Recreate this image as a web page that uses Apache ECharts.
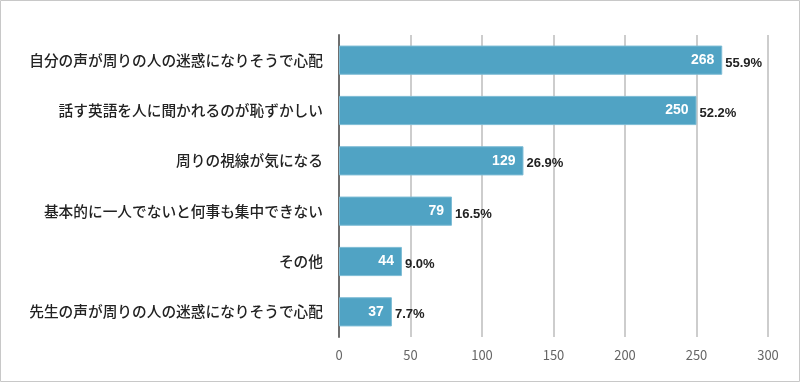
<!DOCTYPE html>
<html><head><meta charset="utf-8">
<script src="https://cdn.jsdelivr.net/npm/echarts@6/dist/echarts.min.js"></script>
<style>html,body{margin:0;padding:0;background:#fff}#c{width:800px;height:382px}</style>
</head><body><div id="c"></div>
<script>
const categories = ['自分の声が周りの人の迷惑になりそうで心配','話す英語を人に聞かれるのが恥ずかしい','周りの視線が気になる','基本的に一人でないと何事も集中できない','その他','先生の声が周りの人の迷惑になりそうで心配'];
const counts = [268, 250, 129, 79, 44, 37];
const percents = ['55.9%', '52.2%', '26.9%', '16.5%', '9.0%', '7.7%'];
const xTicks = [0, 50, 100, 150, 200, 250, 300];

const chart = echarts.init(document.getElementById('c'));
chart.setOption({
  animation: false,
  graphic: [{type:'rect', shape:{x:0.5,y:0.5,width:799,height:381}, style:{fill:'none', stroke:'#c8c8c8', lineWidth:1}, silent:true}],
  grid: {left: 339, right: 32, top: 35, bottom: 45},
  xAxis: {
    type: 'value', min: xTicks[0], max: xTicks[xTicks.length-1], interval: 50,
    axisLine: {show: false}, axisTick: {show: false},
    splitLine: {lineStyle: {color: '#bdbdbd', width: 1.5}},
    axisLabel: {color: '#666', fontSize: 13, margin: 12, fontFamily: 'Noto Sans CJK JP'}
  },
  yAxis: {
    type: 'category', data: categories, inverse: true,
    axisLine: {lineStyle: {color: '#6e6e6e', width: 2}},
    axisTick: {show: false},
    axisLabel: {color: '#222', fontSize: 14.7, fontWeight: 500, margin: 16, fontFamily: 'Noto Sans CJK JP'}
  },
  series: [{
    type: 'bar', data: counts, barCategoryGap: '42%',
    itemStyle: {color: '#50a3c4', borderColor: '#7dbcd5', borderWidth: 1},
    label: {show: true, position: 'insideRight', color: '#fff', fontWeight: 'bold', fontSize: 14, distance: 8, fontFamily: 'Liberation Sans'}
  }, {
    type: 'bar', data: counts, barGap: '-100%', barCategoryGap: '42%',
    itemStyle: {color: 'rgba(0,0,0,0)'}, silent: true,
    label: {show: true, position: 'right', distance: 3, color: '#222', fontWeight: 'bold', fontSize: 13,
      fontFamily: 'Liberation Sans Narrow, Liberation Sans', offset: [0, 3],
      formatter: p => percents[p.dataIndex]}
  }]
});
</script></body></html>
